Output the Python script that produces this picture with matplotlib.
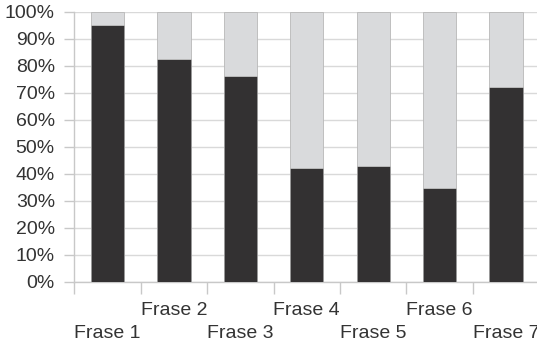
import matplotlib.pyplot as plt
import numpy as np

# data
categories = ['Frase 1', 'Frase 2', 'Frase 3', 'Frase 4', 'Frase 5', 'Frase 6', 'Frase 7']
dark_values = [95.1, 82.5, 76.2, 42.2, 43.0, 34.8, 72.2]
light_values = [100 - v for v in dark_values]

plt.rcParams['font.family'] = ['Liberation Sans', 'DejaVu Sans']
plt.rcParams['font.size'] = 14

W, H = 537, 346
fig = plt.figure(figsize=(W / 100, H / 100), dpi=100)
x0, y0, y1 = 74.3, 281.7, 11.7
ax = fig.add_axes([x0 / W, (H - y0) / H, 1 - x0 / W, (y0 - y1) / H])

x = np.arange(len(categories)) + 0.5
ax.bar(x, dark_values, width=0.5, color='#333132', edgecolor='#9a9a9a', linewidth=0.6, zorder=3)
ax.bar(x, light_values, width=0.5, bottom=dark_values, color='#d9dadc',
       edgecolor='#b8b8b8', linewidth=0.6, zorder=3)

ax.set_xlim(0, (W - x0) / 66.4)
ax.set_ylim(0, 100)

grid_c = '#d9d9d9'
ax.set_yticks(range(0, 101, 10))
ax.set_yticklabels([f'{v}%' for v in range(0, 101, 10)])
ax.yaxis.grid(True, color=grid_c, linewidth=1, zorder=0)
ax.tick_params(axis='y', length=7, width=1, color='#c8c8c8', pad=7, labelcolor='#333333')

# odd labels sit one line lower, like the staggered labels in the original
labels = [c if i % 2 else '\n' + c for i, c in enumerate(categories)]
ax.set_xticks(x)
ax.set_xticklabels(labels, linespacing=1.45)
ax.tick_params(axis='x', which='major', length=0, pad=14.5, labelcolor='#333333')
ax.set_xticks(np.arange(len(categories)), minor=True)
ax.tick_params(axis='x', which='minor', length=8.5, width=1, color='#c8c8c8')

for s in ['top', 'right']:
    ax.spines[s].set_visible(False)
for s in ['left', 'bottom']:
    ax.spines[s].set_color('#c8c8c8')
    ax.spines[s].set_linewidth(1)

fig.savefig('out.png', dpi=100)
